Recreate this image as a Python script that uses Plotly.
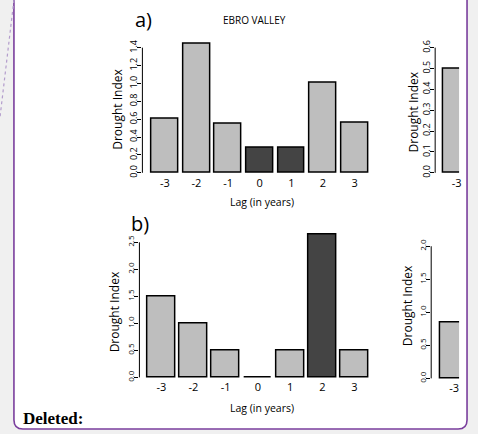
import plotly.graph_objects as go

W, H = 478, 434

# ---------------- data ----------------
lags = [-3, -2, -1, 0, 1, 2, 3]
lag_labels = ["-3", "-2", "-1", "0", "1", "2", "3"]
ebro_a_values = [0.60, 1.44, 0.55, 0.28, 0.28, 1.01, 0.56]
ebro_a_dark = [False, False, False, True, True, False, False]
ebro_b_values = [1.50, 1.00, 0.50, 0.00, 0.50, 2.65, 0.50]
ebro_b_dark = [False, False, False, False, False, True, False]
right_lags = [-3]
right_a_values = [0.50]
right_b_values = [0.85]

ticks_a_left = [0.0, 0.2, 0.4, 0.6, 0.8, 1.0, 1.2, 1.4]
ticks_a_right = [0.0, 0.1, 0.2, 0.3, 0.4, 0.5, 0.6]
ticks_b_left = [0.0, 0.5, 1.0, 1.5, 2.0, 2.5]
ticks_b_right = [0.0, 0.5, 1.0, 1.5, 2.0]

LIGHT = "#bebebe"
DARK = "#444444"
PURPLE = "#7a3e9d"
FONT = "Open Sans"


def fx(p):
    return p / W


def fy(p):
    return 1 - p / H


def cols(flags):
    return [DARK if f else LIGHT for f in flags]


fig = go.Figure()

bar_line = dict(color="black", width=1.5)
fig.add_trace(go.Bar(x=lags, y=ebro_a_values, width=0.85,
                     marker=dict(color=cols(ebro_a_dark), line=bar_line),
                     xaxis="x", yaxis="y", showlegend=False))
fig.add_trace(go.Bar(x=right_lags, y=right_a_values, width=0.85,
                     marker=dict(color=LIGHT, line=bar_line),
                     xaxis="x2", yaxis="y2", showlegend=False))
fig.add_trace(go.Bar(x=lags, y=ebro_b_values, width=0.866,
                     marker=dict(color=cols(ebro_b_dark), line=bar_line),
                     xaxis="x3", yaxis="y3", showlegend=False))
fig.add_trace(go.Bar(x=right_lags, y=right_b_values, width=0.866,
                     marker=dict(color=LIGHT, line=bar_line),
                     xaxis="x4", yaxis="y4", showlegend=False))


def xax(dom, rng, anchor, vals, labels):
    return dict(domain=[fx(dom[0]), fx(dom[1])], range=rng, anchor=anchor,
                tickmode="array", tickvals=vals, ticktext=labels,
                showgrid=False, zeroline=False, showline=False, ticks="",
                tickfont=dict(family=FONT, size=11, color="black"), fixedrange=True)


def yax(dom, rng, anchor, vals, size):
    return dict(domain=[fy(dom[1]), fy(dom[0])], range=rng, anchor=anchor,
                tickmode="array", tickvals=vals,
                ticktext=["%.1f" % v for v in vals], tickangle=-90,
                showgrid=False, zeroline=False, showline=False,
                ticks="outside", ticklen=4, tickwidth=1, tickcolor="black",
                ticklabelstandoff=-3,
                tickfont=dict(family=FONT, size=size, color="black"), fixedrange=True)


layout = dict(
    width=W, height=H, margin=dict(l=0, r=0, t=0, b=0),
    paper_bgcolor="#f0f0f0", plot_bgcolor="rgba(0,0,0,0)",
    bargap=0, barmode="overlay",
    xaxis=xax((143, 378), [-3.71, 3.69], "y", lags, lag_labels),
    yaxis=yax((40, 176), [-0.0222, 1.489], "x", ticks_a_left, 9),
    xaxis2=xax((437, 461), [-3.677, -2.921], "y2", right_lags, ["-3"]),
    yaxis2=yax((40, 176), [-0.0095, 0.638], "x2", ticks_a_right, 9),
    xaxis3=xax((140, 378), [-3.68, 3.682], "y3", lags, lag_labels),
    yaxis3=yax((228, 382), [-0.0368, 2.794], "x3", ticks_b_left, 8),
    xaxis4=xax((433, 461), [-3.711, -2.845], "y4", right_lags, ["-3"]),
    yaxis4=yax((228, 383), [-0.030, 2.30], "x4", ticks_b_right, 8),
)
fig.update_layout(**layout)

# frame (white page with purple border, rounded bottom corners)
L, R, B, r = 14, 469, 432, 9
path = (f"M {fx(L)},{fy(-5)} L {fx(L)},{fy(B - r)} "
        f"Q {fx(L)},{fy(B)} {fx(L + r)},{fy(B)} "
        f"L {fx(R - r)},{fy(B)} Q {fx(R)},{fy(B)} {fx(R)},{fy(B - r)} "
        f"L {fx(R)},{fy(-5)} Z")
shapes = [
    dict(type="path", path=path, xref="paper", yref="paper",
         fillcolor="white", line=dict(color=PURPLE, width=1.6), layer="below"),
    dict(type="line", xref="paper", yref="paper", x0=fx(14), y0=fy(0), x1=fx(0), y1=fy(118),
         line=dict(color="#b39ccc", width=1.2, dash="dot"), layer="below"),
]
# y axis lines spanning only the tick range (R style)
for xa, ya, vals in [("x", "y", ticks_a_left), ("x2", "y2", ticks_a_right),
                     ("x3", "y3", ticks_b_left), ("x4", "y4", ticks_b_right)]:
    shapes.append(dict(type="line", xref=f"{xa} domain", yref=ya, x0=0, x1=0,
                       y0=vals[0], y1=vals[-1], line=dict(color="black", width=1)))
fig.update_layout(shapes=shapes)

ann = []


def text(x, y, s, size, angle=0, family=FONT, xanchor="center"):
    ann.append(dict(x=fx(x), y=fy(y), xref="paper", yref="paper", text=s,
                    showarrow=False, textangle=angle, xanchor=xanchor, yanchor="middle",
                    font=dict(family=family, size=size, color="black")))


text(144, 20, "a)", 20)
text(256, 20, "EBRO VALLEY", 10)
text(141, 225, "b)", 20)
text(118, 110, "Drought Index", 12, -90)
text(415, 113, "Drought Index", 12, -90)
text(115, 314, "Drought Index", 12, -90)
text(410, 308, "Drought Index", 12, -90)
text(263, 203, "Lag (in years)", 10.5)
text(263, 411, "Lag (in years)", 10.5)
text(21, 421, "<b>Deleted:</b>", 17, family="Liberation Serif", xanchor="left")
fig.update_layout(annotations=ann)

fig.write_html("out.html")
